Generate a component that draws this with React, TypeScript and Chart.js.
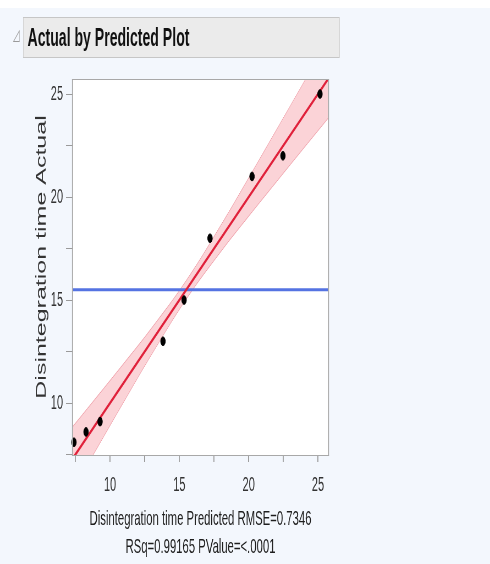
import React, { useEffect, useRef } from "react";
import { Chart, registerables } from "chart.js";
Chart.register(...registerables);

// ---- data ----
const PREDICTED = [7.4, 8.27, 9.28, 13.82, 15.34, 17.21, 20.24, 22.47, 25.14];
const ACTUAL = [8.1, 8.6, 9.1, 13.0, 15.0, 18.0, 21.0, 22.0, 25.0];
const FIT_X = [7.3, 25.8];
const FIT_Y = [7.3, 25.8];
const MEAN_ACTUAL = 15.5;
const BAND_X = [7.3, 9, 11, 13, 15.5, 18, 20, 22, 24, 25.8];
const BAND_UPPER = [8.85, 10.26, 11.93, 13.64, 15.95, 18.64, 20.93, 23.26, 25.6, 27.72];
const BAND_LOWER = [5.75, 7.74, 10.07, 12.36, 15.05, 17.36, 19.07, 20.74, 22.4, 23.88];
const X_TICKS = [7.5, 10, 12.5, 15, 17.5, 20, 22.5, 25];
const Y_TICKS = [7.5, 10, 12.5, 15, 17.5, 20, 22.5, 25];
const LABELED_TICKS = [10, 15, 20, 25];
const TITLE = "Actual by Predicted Plot";
const X_TITLE = ["Disintegration time Predicted RMSE=0.7346", "RSq=0.99165 PValue=<.0001"];
const Y_TITLE = "Disintegration time Actual";

const S = 0.55; // horizontal squeeze of the whole picture
const px = (v: number) => v / S;
const FONT = '"Liberation Sans", Arial, sans-serif';

export default function App() {
  const ref = useRef<HTMLCanvasElement | null>(null);

  useEffect(() => {
    if (!ref.current) return;
    const frame = {
      id: "frame",
      beforeDatasetsDraw(chart: any) {
        const { ctx, chartArea: a } = chart;
        ctx.save();
        ctx.fillStyle = "#ffffff";
        ctx.fillRect(a.left, a.top, a.right - a.left, a.bottom - a.top);
        ctx.restore();
      },
      afterDraw(chart: any) {
        const { ctx, chartArea: a } = chart;
        ctx.save();
        ctx.fillStyle = "#a8a8a8";
        const vw = 1 / S;
        ctx.fillRect(a.left - vw, a.top - 1, a.right - a.left + 2 * vw, 1);
        ctx.fillRect(a.left - vw, a.bottom, a.right - a.left + 2 * vw, 1);
        ctx.fillRect(a.left - vw, a.top - 1, vw, a.bottom - a.top + 2);
        ctx.fillRect(a.right, a.top - 1, vw, a.bottom - a.top + 2);
        // y title
        ctx.translate(px(42), 257 - 60);
        ctx.rotate(-Math.PI / 2);
        ctx.font = `25px ${FONT}`;
        ctx.fillStyle = "#333333";
        ctx.textAlign = "center";
        ctx.textBaseline = "middle";
        ctx.fillText(Y_TITLE, 0, 0);
        ctx.restore();
      },
    };

    const chart = new Chart(ref.current, {
      type: "scatter",
      data: {
        datasets: [
          {
            type: "scatter",
            data: PREDICTED.map((x, i) => ({ x, y: ACTUAL[i] })),
            backgroundColor: "#000000",
            borderColor: "#000000",
            pointRadius: 4.3,
            clip: false as any,
            order: 0,
          } as any,
          {
            type: "line",
            data: FIT_X.map((x, i) => ({ x, y: FIT_Y[i] })),
            borderColor: "#e0203a",
            borderWidth: 3,
            pointRadius: 0,
            fill: false,
            order: 1,
          },
          {
            type: "line",
            data: [
              { x: 7, y: MEAN_ACTUAL },
              { x: 26, y: MEAN_ACTUAL },
            ],
            borderColor: "#5573e2",
            borderWidth: 3,
            pointRadius: 0,
            fill: false,
            order: 2,
          },
          {
            type: "line",
            data: BAND_X.map((x, i) => ({ x, y: BAND_LOWER[i] })),
            borderColor: "rgba(230,110,125,0.6)",
            borderWidth: 1,
            pointRadius: 0,
            tension: 0.4,
            fill: false,
            order: 3,
          },
          {
            type: "line",
            data: BAND_X.map((x, i) => ({ x, y: BAND_UPPER[i] })),
            borderColor: "rgba(230,110,125,0.6)",
            backgroundColor: "rgba(242,120,135,0.33)",
            borderWidth: 1,
            pointRadius: 0,
            tension: 0.4,
            fill: "-1",
            order: 4,
          },
        ] as any,
      },
      options: {
        animation: false,
        responsive: false,
        devicePixelRatio: 1,
        layout: { padding: { top: 20, right: 627 - px(328), left: 0, bottom: 0 } },
        plugins: { legend: { display: false }, tooltip: { enabled: false } },
        scales: {
          x: {
            type: "linear",
            min: 7.33,
            max: 25.72,
            afterBuildTicks: (s: any) => {
              s.ticks = X_TICKS.map((v) => ({ value: v }));
            },
            afterFit: (s: any) => {
              s.height = 109;
            },
            ticks: {
              callback: (v: any) => (LABELED_TICKS.includes(Number(v)) ? String(v) : ""),
              font: { family: FONT, size: 20 },
              color: "#333333",
              padding: 11.5,
              maxRotation: 0,
              autoSkip: false,
            },
            grid: { drawOnChartArea: false, drawTicks: true, tickLength: 7, color: "#9a9a9a", lineWidth: 1 / S },
            border: { display: false },
            title: {
              display: true,
              text: X_TITLE,
              font: { family: FONT, size: 20.6, lineHeight: "28px" },
              color: "#1e1e1e",
              padding: { top: 0, bottom: 2.5 },
            },
          },
          y: {
            type: "linear",
            min: 7.48,
            max: 25.68,
            afterBuildTicks: (s: any) => {
              s.ticks = Y_TICKS.map((v) => ({ value: v }));
            },
            afterFit: (s: any) => {
              s.width = px(73);
            },
            ticks: {
              callback: (v: any) => (LABELED_TICKS.includes(Number(v)) ? String(v) : ""),
              font: { family: FONT, size: 20 },
              color: "#333333",
              padding: 5.5,
              autoSkip: false,
            },
            grid: { drawOnChartArea: false, drawTicks: true, tickLength: px(7), color: "#9a9a9a", lineWidth: 1 },
            border: { display: false },
          },
        },
      } as any,
      plugins: [frame],
    });
    return () => chart.destroy();
  }, []);

  return (
    <div
      style={{
        position: "absolute",
        left: 0,
        top: 0,
        width: 490,
        height: 564,
        overflow: "hidden",
        background: "#f3f7fd",
      }}
    >
      <div style={{ position: "absolute", left: 0, top: 0, width: 490, height: 8, background: "#ffffff" }} />
      <div
        style={{
          position: "absolute",
          left: 0,
          top: 0,
          width: px(490),
          height: 564,
          transform: `scaleX(${S})`,
          transformOrigin: "0 0",
        }}
      >
        <div
          style={{
            position: "absolute",
            left: px(13),
            top: 27,
            fontFamily: '"DejaVu Sans", sans-serif',
            fontSize: 16,
            color: "#9a9a9a",
            lineHeight: "16px",
          }}
        >
          ◿
        </div>
        <div
          style={{
            position: "absolute",
            left: px(23),
            top: 17,
            width: px(340 - 23),
            height: 41,
            boxSizing: "border-box",
            background: "#ebebeb",
            border: "1px solid #c6c6c6",
            fontFamily: FONT,
            fontWeight: "bold",
            fontSize: 25.6,
            lineHeight: "39px",
            paddingLeft: px(4),
            color: "#111111",
            whiteSpace: "nowrap",
          }}
        >
          {TITLE}
        </div>
        <canvas
          ref={ref}
          width={627}
          height={504}
          style={{ position: "absolute", left: 0, top: 60, width: 627, height: 504 }}
        />
      </div>
    </div>
  );
}
